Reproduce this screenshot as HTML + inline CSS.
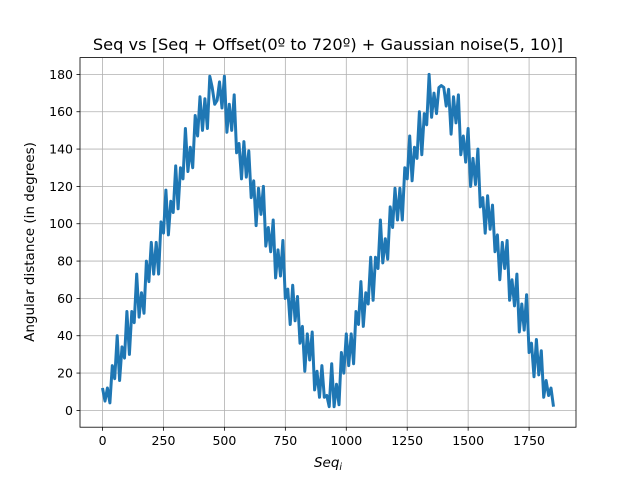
<!DOCTYPE html>
<html><head><meta charset="utf-8"><style>
html,body{margin:0;padding:0;background:#fff;}
svg{display:block;font-family:"DejaVu Sans","Liberation Sans",sans-serif;}
</style></head><body>
<svg id="chart" width="640" height="480" viewBox="0 0 640 480">
<rect width="640" height="480" fill="#fff"/>
<text x="328" y="50" text-anchor="middle" font-size="16.2">Seq vs [Seq + Offset(0º to 720º) + Gaussian noise(5, 10)]</text>
<g id="grid"></g>
<g id="ticks"></g>
<g id="series"></g>
<rect x="80" y="57.6" width="496" height="369.6" fill="none" stroke="#000" stroke-width="0.8"/>
<text x="328" y="467" text-anchor="middle" font-size="13.5" font-style="italic">Seq<tspan font-size="9.5" dy="3">i</tspan></text>
<text transform="translate(34,242) rotate(-90)" text-anchor="middle" font-size="13.5">Angular distance (in degrees)</text>
</svg>
<script>
const seqStep = 10;
const xTicks = [0, 250, 500, 750, 1000, 1250, 1500, 1750];
const yTicks = [0, 20, 40, 60, 80, 100, 120, 140, 160, 180];
const distances = [12,5,12,4,24,17,40,16,34,28,53,30,53,47,73,50,63,52,80,69,
90,73,90,73,101,95,118,94,112,106,131,108,130,124,151,128,141,130,158,147,
168,150,167,151,179,173,164,166,176,162,179,149,164,150,169,138,143,124,144,125,
139,114,123,99,119,105,120,88,98,85,102,71,86,72,91,60,65,46,67,48,
61,36,45,21,41,27,42,11,21,7,24,7,8,2,25,2,14,3,31,20,
41,24,41,25,53,46,69,45,63,57,82,59,82,76,102,79,92,81,109,98,
119,102,119,102,130,124,147,123,141,135,160,137,159,153,180,157,170,159,173,174,
173,163,172,148,168,154,169,137,147,133,151,120,135,121,140,109,114,95,115,97,
110,85,94,70,90,76,91,59,70,56,73,42,57,43,62,31,36,18,38,19,
32,7,16,8,12,2];
const X0=80,X1=576,Y0=427.2,Y1=57.6;
const xMin=-92.5,xMax=1942.5,yMin=-9,yMax=189;
const sx=v=>X0+(v-xMin)/(xMax-xMin)*(X1-X0);
const sy=v=>Y0-(v-yMin)/(yMax-yMin)*(Y0-Y1);
const NS="http://www.w3.org/2000/svg";
const grid=document.getElementById('grid'),ticks=document.getElementById('ticks'),series=document.getElementById('series');
function mk(t,a,p){const e=document.createElementNS(NS,t);for(const k in a)e.setAttribute(k,a[k]);p.appendChild(e);return e;}
xTicks.forEach(v=>{const x=sx(v);
const g=mk('line',{x1:x,x2:x,y1:Y1,y2:Y0,stroke:'#b0b0b0','stroke-width':0.8},grid);


const t=mk('line',{x1:x,x2:x,y1:Y0,y2:Y0+3.5,stroke:'#000','stroke-width':0.8},ticks);


const l=mk('text',{x:x,y:Y0+18,'text-anchor':'middle','font-size':12.5},ticks);l.textContent=v;

});
yTicks.forEach(v=>{const y=sy(v);
const g=mk('line',{x1:X0,x2:X1,y1:y,y2:y,stroke:'#b0b0b0','stroke-width':0.8},grid);


const t=mk('line',{x1:X0-3.5,x2:X0,y1:y,y2:y,stroke:'#000','stroke-width':0.8},ticks);


const l=mk('text',{x:X0-7,y:y+4.5,'text-anchor':'end','font-size':12.5},ticks);l.textContent=v;

});
const pts=distances.map((d,i)=>sx(i*seqStep).toFixed(1)+','+sy(d).toFixed(1)).join(' ');
const line=mk('polyline',{points:pts,fill:'none',stroke:'#1f77b4','stroke-width':3,'stroke-linejoin':'round'},series);


</script>
</body></html>
